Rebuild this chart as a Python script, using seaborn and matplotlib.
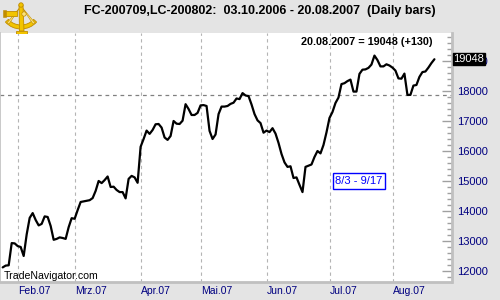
import numpy as np
import pandas as pd
import matplotlib
matplotlib.use("Agg")
import matplotlib.pyplot as plt
from matplotlib.patches import Rectangle, Wedge, Polygon, Circle
import seaborn as sns

# ---------------- data (daily closes) ----------------
jan_close = [12110, 12170, 12180, 12920, 12910, 12820]
feb_close = [12790, 12490, 13210, 13760, 13920, 13690, 13510, 13560, 13810, 13790,
             13490, 13030, 13060, 13110, 13090, 13060, 13450, 13750, 13730]
mar_close = [14020, 14290, 14310, 14330, 14350, 14420, 14660, 14990, 14920, 15020,
             15140, 14790, 14800, 14690, 14620, 14620, 14410, 15060, 15160, 15110,
             14930, 16130]
apr_close = [16390, 16670, 16560, 16690, 16880, 16890, 16770, 16440, 16360, 16490,
             16990, 16900, 16890, 17000, 17550, 17390, 17190, 17190, 17260, 17510]
may_close = [17520, 17490, 16660, 16390, 16540, 17220, 17470, 17470, 17490, 17560,
             17600, 17740, 17720, 17920, 17840, 17820, 17540, 17220, 17010, 16920,
             16600, 16670]
jun_close = [16620, 16750, 16570, 16260, 15890, 15610, 15460, 15480, 15090, 15110,
             14860, 14620, 15460, 15500, 15540, 15790, 15990, 15910, 16190, 16610,
             17090]
jul_close = [17290, 17590, 17770, 18220, 18250, 18320, 18370, 17970, 17970, 18560,
             18700, 18710, 18760, 18870, 19170, 19020, 18810, 18810, 18880, 18840,
             18770]
aug_close = [18670, 18410, 18400, 18570, 17860, 17860, 18170, 18190, 18460, 18620,
             18640, 18770, 18920, 19048]

holidays = ["2007-02-19", "2007-04-06", "2007-05-28", "2007-07-04"]
month_labels = ["Feb.07", "Mrz.07", "Apr.07", "Mai.07", "Jun.07", "Jul.07", "Aug.07"]
month_numbers = [2, 3, 4, 5, 6, 7, 8]
y_ticks = [12000, 13000, 14000, 15000, 16000, 17000, 18000, 19000]
ref_level = 17860
last_value = 19048
title = "FC-200709,LC-200802:  03.10.2006 - 20.08.2007  (Daily bars)"
info_text = "20.08.2007 = 19048 (+130)"
box_text = "8/3 - 9/17"
brand = "TradeNavigator.com"

closes = (jan_close + feb_close + mar_close + apr_close + may_close +
          jun_close + jul_close + aug_close)
dates = pd.bdate_range("2007-01-24", "2007-08-20", freq="C", holidays=holidays)
df = pd.DataFrame({"date": dates, "close": closes})
df["idx"] = np.arange(len(df))

# ---------------- style ----------------
sns.set_style("white")
plt.rcParams["font.family"] = ["Liberation Sans", "DejaVu Sans"]
BG = "#e4e4e4"
NAVY = "#000080"
GRID = "#b4b4b4"
SPINE = "#c0c0c0"

fig = plt.figure(figsize=(5, 3), dpi=100, facecolor=BG)
ax = fig.add_axes([0.0, 0.061, 0.903, 0.829])
ax.set_facecolor("white")

sns.lineplot(data=df, x="idx", y="close", ax=ax, color="black", linewidth=1.6,
             legend=False, zorder=5)

ax.set_xlim(-0.9, 149.7)
ax.set_ylim(11633, 19923)

# month gridlines / labels
month_pos = [df.index[df["date"].dt.month == m][0] - 0.75 for m in month_numbers]
ax.set_xticks(month_pos)
ax.set_xticklabels(month_labels)
for lab in ax.get_xticklabels():
    lab.set_horizontalalignment("left")
ax.tick_params(axis="x", length=0, pad=3, labelsize=7.5, labelcolor=NAVY)
ax.grid(axis="x", color=GRID, linestyle=(0, (3, 3)), linewidth=0.8)
ax.grid(axis="y", visible=False)

# y axis on right
ax.yaxis.tick_right()
ax.set_yticks(y_ticks)
ax.set_yticklabels([str(v) for v in y_ticks])
ax.set_yticks(np.arange(11800, 19901, 200), minor=True)
ax.tick_params(axis="y", which="major", direction="in", length=7, width=1,
               color="#a0a0a0", labelsize=8, labelcolor=NAVY, pad=4)
ax.tick_params(axis="y", which="minor", direction="in", length=3.5, width=1,
               color="#a0a0a0", right=True, left=False)
ax.set_xlabel("")
ax.set_ylabel("")

ax.spines["top"].set_visible(False)
ax.spines["right"].set_color(SPINE)
ax.spines["right"].set_linewidth(2)
ax.spines["bottom"].set_color(SPINE)
ax.spines["bottom"].set_linewidth(2)
ax.spines["left"].set_color(SPINE)
ax.spines["left"].set_linewidth(1.2)

# reference dashed line
ax.axhline(ref_level, color="#808080", linestyle=(0, (3, 3)), linewidth=0.9, zorder=2)

# info text
ax.text(0.957, 0.965, info_text, transform=ax.transAxes, ha="right", va="center",
        fontsize=7.8, fontweight="bold", color="black")

# last value tag (covers the 19000 label as in the original)
ax.annotate(str(last_value), xy=(1.0, last_value), xycoords=("axes fraction", "data"),
            xytext=(1.5, 0), textcoords="offset points", ha="left", va="center",
            fontsize=8, color="white", zorder=10, annotation_clip=False,
            bbox=dict(boxstyle="square,pad=0.08", fc="black", ec="black"))

# blue boxed label
ax.text(0.795, 0.406, box_text, transform=ax.transAxes, ha="center", va="center",
        fontsize=8, color="#0000ff",
        bbox=dict(boxstyle="square,pad=0.25", fc="white", ec="#0000ff", lw=1))

# brand
ax.text(0.009, 0.022, brand, transform=ax.transAxes, ha="left", va="center",
        fontsize=7.6, color="black", zorder=6)

# title
fig.text(0.52, 0.963, title, ha="center", va="center", fontsize=9,
         fontweight="bold", color="black")

# sextant-like logo (decoration)
lax = fig.add_axes([0.0, 0.0 + 1 - 34 / 300, 37 / 500, 34 / 300])
lax.set_xlim(0, 37)
lax.set_ylim(0, 34)
lax.axis("off")
gold = "#f2c400"
light = "#fbe27a"
dark = "#c08c00"
lax.add_patch(Wedge((21, 26), 21, 222, 318, width=4, fc=gold, ec=dark, lw=0.6))
lax.add_patch(Polygon([[21, 28], [7, 11], [9, 10]], closed=True, fc=light, ec=dark, lw=0.4))
lax.add_patch(Polygon([[21, 28], [35, 11], [33, 10]], closed=True, fc=light, ec=dark, lw=0.4))
lax.add_patch(Polygon([[19, 29], [23, 29], [24, 3], [19.5, 3]], closed=True,
                      fc=gold, ec=dark, lw=0.6))
lax.add_patch(Rectangle((4, 18), 13, 5, fc=gold, ec=dark, lw=0.6))
lax.add_patch(Rectangle((3, 17), 2.5, 7, fc=dark, ec=dark, lw=0.4))
lax.add_patch(Circle((21, 29), 2.2, fc=gold, ec=dark, lw=0.6))
lax.add_patch(Rectangle((16, 0.5), 11, 3, fc=gold, ec=dark, lw=0.6))
lax.add_patch(Circle((24, 20), 2.2, fc=light, ec=dark, lw=0.5))

fig.savefig("out.png", dpi=100, facecolor=BG)
